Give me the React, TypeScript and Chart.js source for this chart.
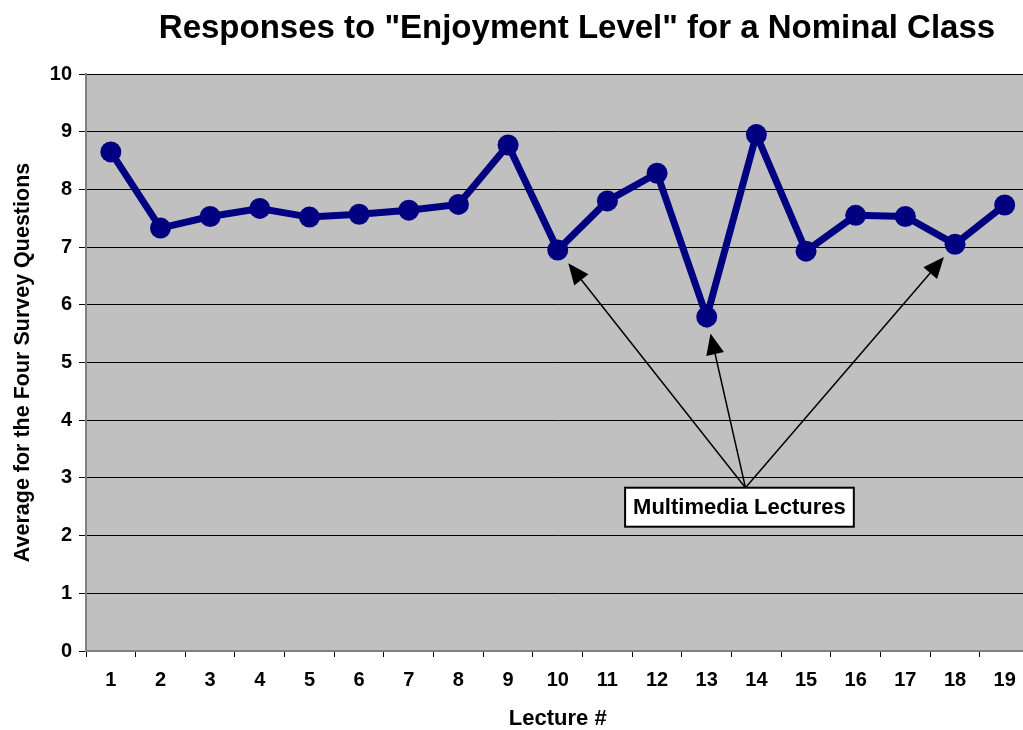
import React, { useEffect, useRef } from "react";
import { Chart, registerables } from "chart.js";

Chart.register(...registerables);

const lectures = ["1","2","3","4","5","6","7","8","9","10","11","12","13","14","15","16","17","18","19"];
const enjoyment = [8.65, 7.33, 7.53, 7.67, 7.52, 7.57, 7.64, 7.74, 8.77, 6.95, 7.80, 8.28, 5.79, 8.95, 6.93, 7.55, 7.53, 7.05, 7.73];
const multimediaLectures = ["10", "13", "18"];
const annotationLabel = "Multimedia Lectures";
const chartTitle = 'Responses to "Enjoyment Level" for a Nominal Class';
const yTitle = "Average for the Four Survey Questions";
const xTitle = "Lecture #";

const FONT = '"Liberation Sans", Arial, sans-serif';

export default function App() {
  const ref = useRef<HTMLCanvasElement>(null);
  useEffect(() => {
    const canvas = ref.current!;
    const bgPlugin = {
      id: "bg",
      beforeDraw(chart: any) {
        const { ctx, chartArea: a } = chart;
        ctx.save();
        ctx.fillStyle = "#C0C0C0";
        ctx.fillRect(a.left, a.top, a.right - a.left, a.bottom - a.top);
        ctx.restore();
      },
      afterDraw(chart: any) {
        const { ctx } = chart;
        ctx.save();
        ctx.fillStyle = "#000";
        ctx.font = `bold 33px ${FONT}`;
        ctx.textAlign = "center";
        ctx.textBaseline = "middle";
        ctx.fillText(chartTitle, 577, 29);
        ctx.restore();
      },
    };
    const annotPlugin = {
      id: "annot",
      afterDatasetsDraw(chart: any) {
        const { ctx, scales } = chart;
        const xs = scales.x, ys = scales.y;
        const ox = xs.getPixelForValue(12.78);
        const oy = ys.getPixelForValue(2.83);
        ctx.save();
        ctx.strokeStyle = "#000";
        ctx.fillStyle = "#000";
        ctx.lineWidth = 1.5;
        multimediaLectures.forEach((lab) => {
          const i = lectures.indexOf(lab);
          const px = xs.getPixelForValue(i);
          const py = ys.getPixelForValue(enjoyment[i]);
          const dx = ox - px, dy = oy - py;
          const len = Math.hypot(dx, dy);
          const ux = dx / len, uy = dy / len;
          const tx = px + ux * 17, ty = py + uy * 17;
          const hl = 21, hw = 9;
          const bx = tx + ux * hl, by = ty + uy * hl;
          ctx.beginPath();
          ctx.moveTo(ox, oy);
          ctx.lineTo(bx, by);
          ctx.stroke();
          ctx.beginPath();
          ctx.moveTo(tx, ty);
          ctx.lineTo(bx - uy * hw, by + ux * hw);
          ctx.lineTo(bx + uy * hw, by - ux * hw);
          ctx.closePath();
          ctx.fill();
        });
        ctx.font = `bold 22px ${FONT}`;
        const tw = ctx.measureText(annotationLabel).width;
        const bw = tw + 16, bh = 39;
        const bxl = ox - 6 - bw / 2;
        ctx.fillStyle = "#fff";
        ctx.fillRect(bxl, oy, bw, bh);
        ctx.lineWidth = 2;
        ctx.strokeRect(bxl, oy, bw, bh);
        ctx.fillStyle = "#000";
        ctx.textAlign = "center";
        ctx.textBaseline = "middle";
        ctx.fillText(annotationLabel, bxl + bw / 2, oy + bh / 2 + 1);
        ctx.restore();
      },
    };
    const chart = new Chart(canvas, {
      type: "line",
      data: {
        labels: lectures,
        datasets: [
          {
            data: enjoyment,
            borderColor: "#000080",
            backgroundColor: "#000080",
            borderWidth: 7,
            pointRadius: 10.5,
            pointHoverRadius: 10.5,
            pointBackgroundColor: "#000080",
            pointBorderWidth: 0,
            tension: 0,
          },
        ],
      },
      options: {
        animation: false,
        responsive: false,
        devicePixelRatio: 1,
        events: [],
        layout: { padding: { top: 74, right: 10, left: 0, bottom: 0 } },
        plugins: { legend: { display: false }, tooltip: { enabled: false }, title: { display: false } },
        scales: {
          x: {
            type: "category",
            offset: true,
            afterFit: (s: any) => { s.height = 79; },
            grid: { offset: true, drawOnChartArea: false, tickLength: 6, color: "#000", lineWidth: 1 },
            border: { color: "#808080", width: 2 },
            ticks: { font: { family: FONT, size: 20, weight: "bold" }, color: "#000", padding: 11, maxRotation: 0, autoSkip: false },
            title: { display: true, text: xTitle, font: { family: FONT, size: 22, weight: "bold", lineHeight: 1 }, color: "#000", padding: { top: 0, bottom: 0 } },
          },
          y: {
            min: 0,
            max: 10,
            afterFit: (s: any) => { s.width = 86; },
            grid: { color: "#000", lineWidth: 1, tickLength: 7 },
            border: { color: "#808080", width: 2 },
            ticks: { stepSize: 1, font: { family: FONT, size: 20, weight: "bold" }, color: "#000", padding: 7 },
            title: { display: true, text: yTitle, font: { family: FONT, size: 21.5, weight: "bold", lineHeight: 1 }, color: "#000", padding: { top: 12, bottom: 0 } },
          },
        },
      },
      plugins: [bgPlugin, annotPlugin],
    } as any);
    return () => chart.destroy();
  }, []);
  return (
    <div style={{ position: "fixed", left: 0, top: 0, width: 1040, height: 730, overflow: "hidden", background: "#fff" }}>
      <canvas ref={ref} width={1040} height={730} />
    </div>
  );
}
